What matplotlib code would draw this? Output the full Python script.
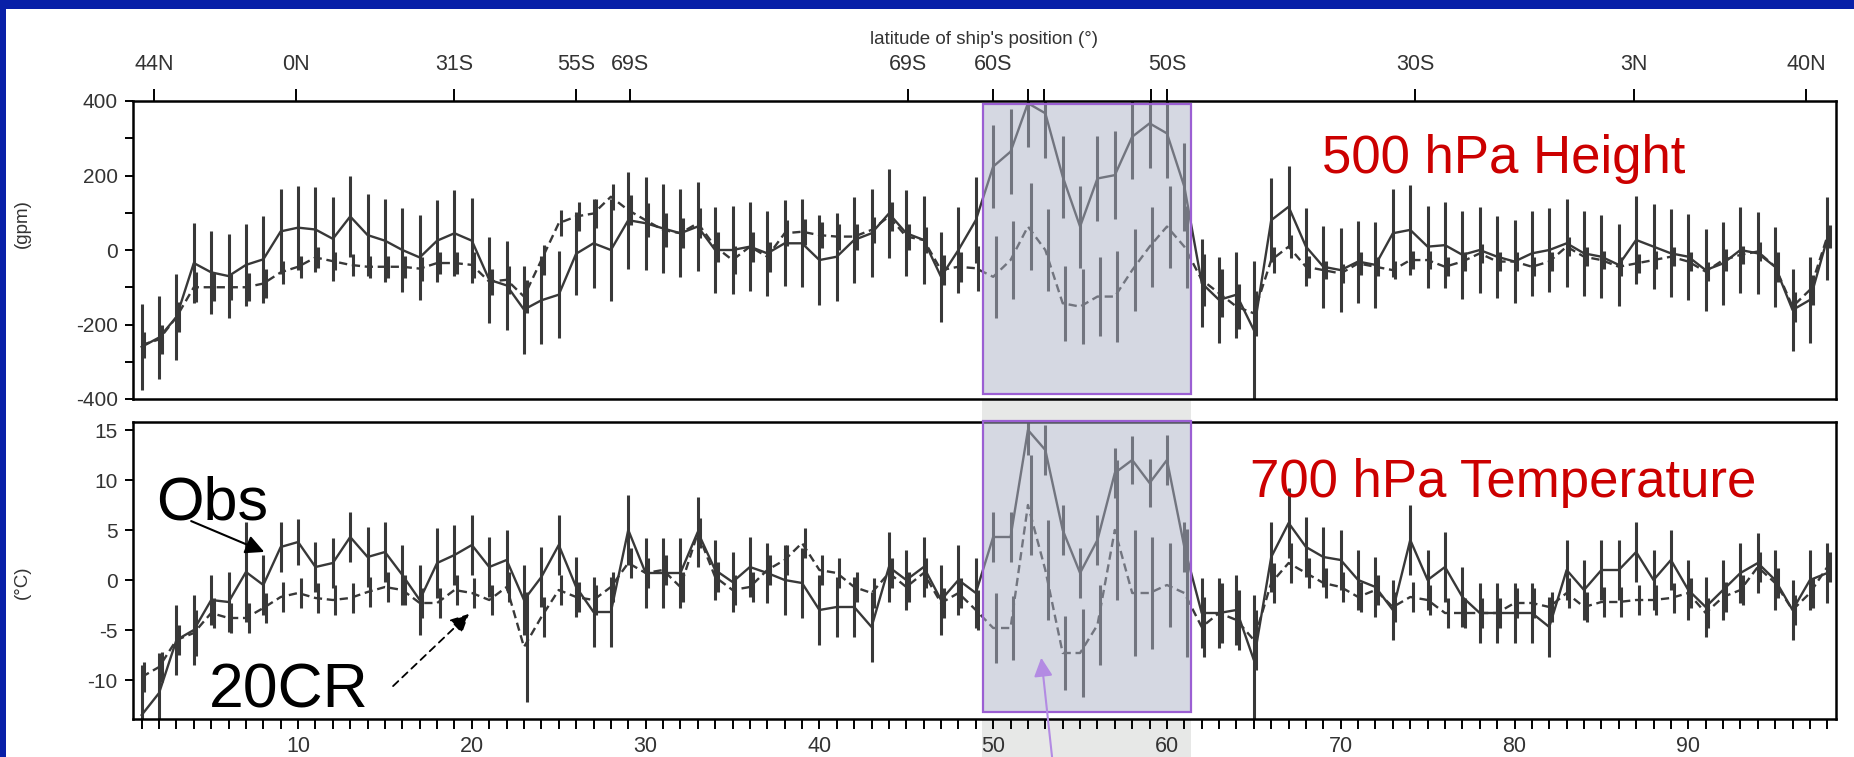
import matplotlib
matplotlib.use("Agg")
import matplotlib.pyplot as plt
from matplotlib.patches import Rectangle
from matplotlib import font_manager
import numpy as np

# ---------------- data ----------------
station = list(range(1, 99))

h_obs = [-260, -235, -180, -35, -60, -70, -40, -25, 50, 60, 55, 30, 90, 40, 25, 0, -20, 25, 45, 25,
         -80, -95, -160, -135, -120, -10, 18, 0, 80, 72, 58, 45, 63, 0, 0, 9, -9, 18, 18, -27,
         -18, 27, 45, 98, 45, 27, -72, 0, 80, 224, 264, 394, 367, 197, 63, 192, 201, 304, 340, 313,
         170, -89, -134, -120, -215, 80, 116, 9, -45, -54, -31, -40, 45, 54, 9, 13, -13, 0, -18, -31,
         -9, 0, 18, -9, -18, -40, 27, 9, -9, -18, -54, -36, 0, -9, -45, -161, -134, 31]
h_obs_err = [115, 112, 116, 107, 111, 112, 110, 116, 115, 113, 115, 112, 109, 110, 112, 112, 113, 110, 115, 114,
             116, 120, 118, 118, 116, 112, 120, 138, 130, 125, 120, 118, 120, 115, 118, 120, 115, 115, 118, 120,
             118, 115, 118, 120, 115, 118, 120, 115, 115, 112, 115, 118, 120, 110, 110, 115, 118, 113, 120, 120,
             118, 118, 115, 115, 185, 112, 110, 105, 110, 112, 110, 115, 118, 120, 110, 115, 118, 115, 110, 112,
             115, 112, 118, 115, 112, 110, 118, 115, 118, 115, 110, 112, 115, 110, 108, 110, 115, 112]
h_cr = [-255, -240, -180, -100, -100, -100, -100, -90, -60, -45, -20, -30, -40, -45, -45, -45, -50, -35, -35, -40,
        -85, -80, -125, -27, 72, 90, 98, 143, 107, 80, 54, 45, 72, 9, -27, 9, -18, 45, 49, 40,
        36, 36, 54, 90, 36, 27, -54, -45, -49, -72, -27, 63, 0, -143, -152, -125, -125, -54, 9, 63,
        9, -80, -116, -152, -170, -27, 9, -45, -54, -63, -36, -45, -54, -27, -27, -45, -31, -9, -31, -31,
        -45, -31, 9, -18, -27, -45, -36, -27, -18, -31, -58, -27, -13, -4, -45, -152, -107, 36]
h_cr_err = [35, 38, 40, 40, 38, 35, 38, 40, 30, 30, 28, 25, 30, 30, 30, 30, 32, 30, 30, 35,
            35, 38, 45, 40, 35, 40, 40, 35, 40, 45, 45, 40, 40, 40, 38, 40, 40, 35, 35, 35,
            35, 35, 35, 40, 35, 35, 40, 40, 60, 110, 105, 116, 110, 100, 100, 105, 123, 110, 107, 110,
            110, 70, 65, 60, 60, 35, 30, 30, 25, 25, 30, 25, 25, 25, 25, 25, 25, 25, 25, 25,
            25, 25, 25, 25, 25, 25, 25, 25, 25, 25, 25, 30, 25, 25, 40, 40, 40, 30]

t_obs = [-13.5, -11.3, -6.0, -5.0, -2.0, -2.2, 0.8, -0.5, 3.3, 3.8, 1.3, 1.7, 4.3, 2.3, 2.8, 0.5, -2.0, 1.7, 2.5, 3.5,
         1.3, 2.0, -2.0, 0.3, 3.5, -0.7, -3.2, -3.2, 5.0, 0.7, 0.7, 0.7, 4.8, 1.0, -0.2, 1.3, 0.7, 0.0, -0.3, -3.0,
         -2.7, -2.7, -4.7, 1.3, 0.0, 1.3, -2.0, 0.0, -1.3, 4.3, 4.3, 15.0, 13.0, 5.0, 0.7, 4.0, 10.7, 12.0, 9.7, 12.0,
         3.3, -3.3, -3.3, -3.0, -8.0, 2.3, 5.7, 3.3, 2.3, 2.0, 0.0, -0.7, -3.0, 4.0, 0.0, 1.3, -1.7, -3.3, -3.3, -3.3,
         -3.3, -4.7, 1.0, -1.0, 1.0, 1.0, 2.8, 0.0, 2.0, -1.0, -2.7, -1.0, 0.7, 1.7, 0.0, -3.0, 0.0, 0.7]
t_obs_err = [5, 4, 3.5, 3.5, 2.5, 3, 5, 3, 2.5, 2.3, 2.5, 2.5, 2.5, 3, 3, 3, 3.5, 3.5, 3, 3,
             3, 3, 3.5, 3, 3, 3, 3.5, 3.5, 3.5, 3.5, 3.5, 3.5, 3.5, 3, 3, 3, 3, 3.5, 3.5, 3.5,
             3, 3, 3.5, 3.5, 3, 3, 3.5, 3.5, 3.5, 2.5, 2.5, 2.5, 2.5, 2.5, 2.5, 2.5, 2.5, 2.4, 2.4, 2.5,
             2.5, 3.5, 3.5, 3.5, 6.5, 3.5, 3.5, 3, 3, 3, 3, 3, 3, 3.5, 3, 3.5, 3, 3, 3, 3,
             3, 3, 3, 3, 3, 3, 3, 3, 3, 3, 3, 3, 3, 3, 3, 3, 3, 3]
t_cr = [-9.7, -8.7, -6.0, -5.3, -3.3, -3.8, -3.8, -2.8, -1.7, -1.3, -1.8, -2.0, -1.8, -1.2, -0.7, -1.0, -2.3, -2.3, -1.0, -1.3,
        -2.0, -0.7, -6.7, -3.7, -1.0, -1.7, -2.0, -0.7, 1.7, 0.7, 1.0, -0.7, 4.7, 0.3, -1.0, -0.7, 1.0, 2.0, 3.7, 1.0,
        0.7, -0.7, -1.3, 0.7, -0.7, 0.7, -2.3, -1.3, -3.0, -4.8, -4.8, 7.5, 1.0, -7.3, -7.3, -4.5, 5.0, -1.3, -1.3, -0.5,
        -1.3, -4.7, -3.3, -4.0, -6.0, -0.3, 1.7, 0.7, -0.3, -0.7, -1.7, -1.0, -2.7, -1.7, -2.0, -3.3, -3.3, -3.3, -3.3, -2.3,
        -2.3, -2.7, -1.3, -2.7, -2.2, -2.2, -2.0, -2.0, -1.8, -1.3, -3.3, -1.7, -1.0, 1.3, -0.3, -3.0, -1.3, 1.3]
t_cr_err = [1.5, 1.5, 1.5, 2.3, 1.5, 1.5, 1.5, 1.5, 1.5, 1.5, 1.5, 1.5, 1.5, 1.5, 1.5, 1.5, 1.5, 1.5, 1.5, 1.5,
            1.5, 1.5, 5.5, 2.0, 1.5, 1.5, 1.5, 1.5, 1.5, 1.5, 1.5, 1.5, 1.5, 1.5, 1.5, 1.5, 1.5, 1.5, 1.5, 1.5,
            1.5, 1.5, 1.5, 1.5, 1.5, 1.5, 1.5, 1.5, 2.0, 3.5, 3.2, 5.0, 5.0, 3.7, 4.4, 4.0, 7.0, 6.3, 5.6, 4.2,
            6.4, 3.0, 3.0, 3.0, 3.0, 2.0, 2.0, 1.5, 1.5, 1.5, 1.5, 1.5, 1.5, 1.5, 1.5, 1.5, 1.5, 1.5, 1.5, 1.5,
            1.5, 1.5, 1.5, 1.5, 1.5, 1.5, 1.5, 1.5, 1.5, 1.5, 1.5, 1.5, 1.5, 1.5, 1.5, 1.5, 1.5, 1.5]

lat_pos = [1.7, 9.9, 19.0, 26.0, 29.1, 45.1, 50.0, 52.0, 52.9, 59.06, 60.0, 74.3, 86.9, 96.8]
lat_lab = ["44N", "0N", "31S", "55S", "69S", "69S", "60S", "", "", "", "50S", "30S", "3N", "40N"]

box_x = (49.4, 61.4)

# ---------------- style ----------------
names = {f.name for f in font_manager.fontManager.ttflist}
small_font = "Liberation Sans Narrow" if "Liberation Sans Narrow" in names else "Liberation Sans"
plt.rcParams["font.family"] = ["Liberation Sans", "DejaVu Sans"]
plt.rcParams["axes.unicode_minus"] = False
gray_txt = "#333333"
line_col = "#383838"

W, H = 1854, 757
fig = plt.figure(figsize=(W / 100, H / 100), dpi=100)
fig.patch.set_facecolor("#0820A8")
fig.patches.append(Rectangle((6 / W, 0), 1, 1 - 9 / H, transform=fig.transFigure,
                             facecolor="white", edgecolor="none", zorder=-3))
# light gray band of the original figure (Southern Ocean section)
fig.patches.append(Rectangle((982 / W, 0), (1191 - 982) / W, 1 - 101 / H, transform=fig.transFigure,
                             facecolor="#E7E8E7", edgecolor="none", zorder=-2))

ax1 = fig.add_axes([133 / W, 1 - 399 / H, (1836 - 133) / W, (399 - 101) / H])
ax2 = fig.add_axes([133 / W, 1 - 719 / H, (1836 - 133) / W, (719 - 422) / H])

x = np.array(station, dtype=float)

def draw(ax, obs, obs_err, cr, cr_err):
    obs = np.array(obs); obs_err = np.array(obs_err)
    cr = np.array(cr); cr_err = np.array(cr_err)
    ax.vlines(x, obs - obs_err, obs + obs_err, color=line_col, lw=2.2, zorder=2)
    ax.vlines(x + 0.15, cr - cr_err, cr + cr_err, color=line_col, lw=2.2, zorder=2)
    ax.plot(x, obs, color=line_col, lw=1.7, zorder=2)
    ax.plot(x, cr, color=line_col, lw=1.7, ls=(0, (3.5, 2)), zorder=2)

draw(ax1, h_obs, h_obs_err, h_cr, h_cr_err)
draw(ax2, t_obs, t_obs_err, t_cr, t_cr_err)

for ax in (ax1, ax2):
    ax.set_xlim(0.5, 98.5)
    for s in ax.spines.values():
        s.set_linewidth(1.8)
        s.set_color("black")
    ax.tick_params(axis="y", direction="out", length=6, width=1.4, labelsize=15,
                   labelcolor=gray_txt, pad=5, right=False)

# top panel
ax1.set_ylim(-400, 400)
ax1.set_yticks([-400, -200, 0, 200, 400])
ax1.set_yticks([-300, -100, 100, 300], minor=True)
ax1.tick_params(axis="y", which="minor", direction="out", length=6, width=1.4)
ax1.xaxis.set_ticks_position("top")
ax1.xaxis.set_label_position("top")
ax1.set_xticks(lat_pos)
ax1.set_xticklabels(lat_lab)
ax1.tick_params(axis="x", direction="out", length=9, width=1.4, labelsize=15.5,
                labelcolor=gray_txt, pad=10, bottom=False)
ax1.set_xlabel("latitude of ship's position (°)", fontsize=13.5, color=gray_txt,
               labelpad=7, fontfamily=small_font)
ax1.set_ylabel("(gpm)", fontsize=13.5, color=gray_txt, fontfamily=small_font)
ax1.yaxis.set_label_coords(-0.060, 0.59)

# bottom panel
ax2.set_ylim(-13.9, 15.8)
ax2.set_yticks([-10, -5, 0, 5, 10, 15])
ax2.set_xticks([10, 20, 30, 40, 50, 60, 70, 80, 90])
ax2.set_xticks([v for v in station if v % 10 != 0], minor=True)
ax2.tick_params(axis="x", which="both", direction="out", length=7, width=1.4,
                labelsize=15.5, labelcolor=gray_txt, pad=5, top=False)
ax2.set_ylabel("(°C)", fontsize=13.5, color=gray_txt, fontfamily=small_font)
ax2.yaxis.set_label_coords(-0.060, 0.46)

for ax in (ax1, ax2):
    for lab in ax.get_xticklabels() + ax.get_yticklabels():
        lab.set_fontfamily(small_font)

# presenter's highlight boxes
ax1.add_patch(Rectangle((box_x[0], -387), box_x[1] - box_x[0], 387 + 392,
                        facecolor=(172 / 255, 178 / 255, 198 / 255, 0.5),
                        edgecolor="#9B5FD3", lw=1.6, zorder=3))
ax2.add_patch(Rectangle((box_x[0], -13.2), box_x[1] - box_x[0], 13.2 + 15.9,
                        facecolor=(172 / 255, 178 / 255, 198 / 255, 0.5),
                        edgecolor="#9B5FD3", lw=1.6, zorder=3, clip_on=False))

# big labels
ax1.text(68.9, 207, "500 hPa Height", color="#CC0000", fontsize=38, ha="left", va="baseline", zorder=5)
ax2.text(64.8, 8.3, "700 hPa Temperature", color="#CC0000", fontsize=38, ha="left", va="baseline", zorder=5)
ax2.text(1.85, 6.0, "Obs", color="black", fontsize=44, ha="left", va="baseline", zorder=5)
ax2.text(4.85, -12.7, "20CR", color="black", fontsize=45, ha="left", va="baseline", zorder=5)

ax2.annotate("", xy=(8.2, 2.7), xytext=(3.7, 6.0),
             arrowprops=dict(arrowstyle="-|>", color="black", lw=1.5, mutation_scale=28),
             zorder=6, annotation_clip=False)
ax2.annotate("", xy=(19.95, -3.2), xytext=(15.35, -10.8),
             arrowprops=dict(arrowstyle="-|>", color="black", lw=1.3, ls=(0, (4, 3)),
                             mutation_scale=28),
             zorder=6, annotation_clip=False)
ax2.annotate("", xy=(52.75, -7.5), xytext=(53.5, -19.5),
             arrowprops=dict(arrowstyle="-|>", color="#B38BE3", lw=1.5, mutation_scale=28),
             zorder=6, annotation_clip=False)

fig.savefig("out.png", dpi=100, facecolor=fig.get_facecolor())
